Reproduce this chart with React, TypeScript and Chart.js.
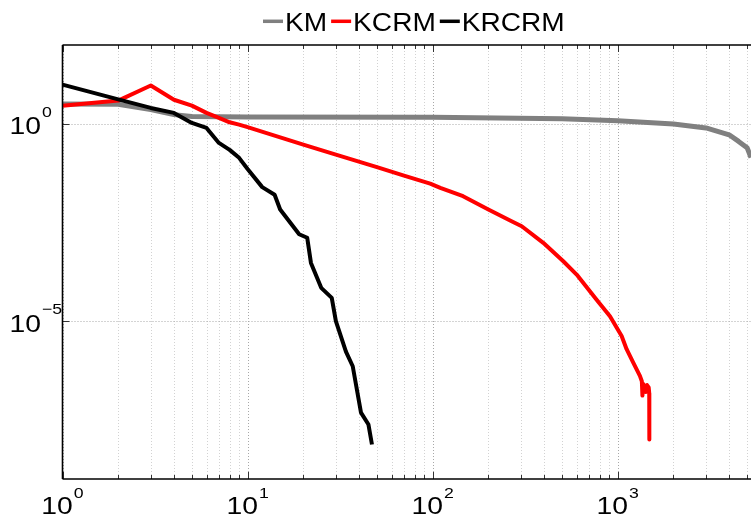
import React, { useEffect, useRef } from "react";
import { Chart, registerables } from "chart.js";

Chart.register(...registerables);

// ---------- data ----------
const seriesNames = ["KM", "KCRM", "KRCRM"];
const seriesColors = ["#808080", "#ff0000", "#000000"];

const kmX = [1, 2, 3, 4, 5, 10, 100, 500, 1000, 2000, 3000, 4000, 4500, 5000, 5250];
const kmY = [3.2, 3.15, 2.3, 1.72, 1.55, 1.5, 1.48, 1.35, 1.2, 1.0, 0.79, 0.53, 0.36, 0.25, 0.14];

const kcrmX = [1, 2, 3, 4, 5, 6, 7, 8, 9, 10, 20, 30, 50, 70, 97, 110, 146, 200, 267, 303, 396, 508, 600, 769, 908, 1050, 1117, 1213, 1318, 1350, 1360, 1370, 1400, 1420, 1440, 1470, 1480, 1482];
const kcrmY = [2.9, 3.9, 9.4, 4.1, 2.9, 1.9, 1.42, 1.1, 0.96, 0.83, 0.3, 0.167, 0.08, 0.049, 0.0307, 0.0239, 0.0147, 0.0068, 0.0034, 0.00255, 0.00097, 0.00033, 1.52e-4, 3.5e-5, 1.34e-5, 4.2e-6, 1.95e-6, 8.9e-7, 4.1e-7, 3.0e-7, 1.3e-7, 2.6e-7, 2.2e-7, 1.6e-7, 2.4e-7, 2.1e-7, 1.5e-7, 1.0e-8];

const krcrmX = [1, 2, 3, 4, 5, 6, 7, 8, 9, 10, 12, 14, 15, 19, 21, 22, 25, 28.5, 30, 34, 37, 41, 45, 47];
const krcrmY = [9.9, 4.2, 2.54, 1.9, 1.06, 0.79, 0.33, 0.22, 0.138, 0.072, 0.025, 0.016, 0.0068, 0.0016, 0.0013, 0.0003, 7e-5, 3.9e-5, 1e-5, 1.7e-6, 7.2e-7, 4.8e-8, 2.4e-8, 7.5e-9];

const xMin = 1;
const xMax = 5250;
const yMin = 1e-9;
const yMax = 100;

const xGridValues = [
  1, 2, 3, 4, 5, 6, 7, 8, 9,
  10, 20, 30, 40, 50, 60, 70, 80, 90,
  100, 200, 300, 400, 500, 600, 700, 800, 900,
  1000, 2000, 3000, 4000, 5000,
];
const xMajorValues = [1, 10, 100, 1000];
const xLabelExponents = ["0", "1", "2", "3"];
const yTickValues = [1, 1e-5];
const yLabelExponents = ["0", "\u22125"];

// ---------- drawing helpers ----------
const FONT = "'Liberation Sans', Arial, sans-serif";

function strokeLine(ctx: CanvasRenderingContext2D, x1: number, y1: number, x2: number, y2: number) {
  ctx.beginPath();
  ctx.moveTo(x1, y1);
  ctx.lineTo(x2, y2);
  ctx.stroke();
}

function drawPowerLabel(
  ctx: CanvasRenderingContext2D,
  exp: string,
  x: number,
  baseY: number,
  supY: number,
  align: "left" | "center"
) {
  const sx = 1.18;
  ctx.font = `24px ${FONT}`;
  const wb = ctx.measureText("10").width * sx;
  ctx.font = `15px ${FONT}`;
  const ws = ctx.measureText(exp).width * sx;
  const total = wb + 1 + ws;
  const x0 = align === "center" ? x - total / 2 : x;
  ctx.save();
  ctx.fillStyle = "#000";
  ctx.textBaseline = "alphabetic";
  ctx.textAlign = "left";
  ctx.translate(x0, baseY);
  ctx.scale(sx, 1);
  ctx.font = `24px ${FONT}`;
  ctx.fillText("10", 0, 0);
  ctx.restore();
  ctx.save();
  ctx.fillStyle = "#000";
  ctx.textBaseline = "alphabetic";
  ctx.textAlign = "left";
  ctx.translate(x0 + wb + 1, supY);
  ctx.scale(sx, 1);
  ctx.font = `15px ${FONT}`;
  ctx.fillText(exp, 0, 0);
  ctx.restore();
}

const decorPlugin = {
  id: "decor",
  beforeDatasetsDraw(chart: any) {
    const { ctx, chartArea: a, scales } = chart;
    const xs = scales.x;
    const ys = scales.y;
    ctx.save();
    ctx.lineWidth = 1;
    ctx.setLineDash([1, 2]);
    for (const v of xGridValues) {
      const px = Math.round(xs.getPixelForValue(v)) + 0.5;
      ctx.strokeStyle = xMajorValues.includes(v) ? "#a8a8a8" : "#d2d2d2";
      strokeLine(ctx, px, a.top, px, a.bottom);
    }
    ctx.strokeStyle = "#a8a8a8";
    for (const v of yTickValues) {
      const py = Math.round(ys.getPixelForValue(v)) + 0.5;
      strokeLine(ctx, a.left, py, a.right, py);
    }
    ctx.restore();
  },
  afterDatasetsDraw(chart: any) {
    const { ctx, chartArea: a, scales } = chart;
    const xs = scales.x;
    const ys = scales.y;
    ctx.save();
    ctx.setLineDash([]);
    // tick marks (inward)
    ctx.strokeStyle = "#333";
    ctx.lineWidth = 1;
    for (const v of xGridValues) {
      const px = Math.round(xs.getPixelForValue(v)) + 0.5;
      const len = xMajorValues.includes(v) ? 7 : 4;
      strokeLine(ctx, px, a.bottom, px, a.bottom - len);
      strokeLine(ctx, px, a.top, px, a.top + len);
    }
    for (const v of yTickValues) {
      const py = Math.round(ys.getPixelForValue(v)) + 0.5;
      strokeLine(ctx, a.left, py, a.left + 7, py);
    }
    // axes box
    ctx.strokeStyle = "#000";
    ctx.lineWidth = 1.6;
    strokeLine(ctx, a.left, a.top, a.right + 2, a.top);
    strokeLine(ctx, a.left, a.top, a.left, a.bottom);
    strokeLine(ctx, a.left, a.bottom, a.right + 2, a.bottom);
    ctx.restore();

    // x tick labels
    xMajorValues.forEach((v, i) => {
      const px = xs.getPixelForValue(v);
      drawPowerLabel(ctx, xLabelExponents[i], px, a.bottom + 35, a.bottom + 19, "center");
    });
    // y tick labels
    yTickValues.forEach((v, i) => {
      const py = ys.getPixelForValue(v);
      drawPowerLabel(ctx, yLabelExponents[i], a.left - 53, py + 10.5, py - 7, "left");
    });

    // legend
    ctx.save();
    const sx = 1.08;
    ctx.font = `26px ${FONT}`;
    ctx.textBaseline = "alphabetic";
    ctx.textAlign = "left";
    let cx = 263;
    const ly = 21.3;
    seriesNames.forEach((name, i) => {
      ctx.strokeStyle = seriesColors[i];
      ctx.lineWidth = 3.5;
      strokeLine(ctx, cx, ly, cx + 20, ly);
      cx += 22;
      ctx.save();
      ctx.fillStyle = "#000";
      ctx.translate(cx, 30.7);
      ctx.scale(sx, 1);
      ctx.fillText(name, 0, 0);
      ctx.restore();
      cx += ctx.measureText(name).width * sx + 4;
    });
    ctx.restore();
  },
};

function toPoints(xs: number[], ys: number[]) {
  return xs.map((x, i) => ({ x, y: ys[i] }));
}

const hiddenAxis = {
  grid: { display: false, drawTicks: false, tickLength: 0 },
  border: { display: false },
  ticks: { display: false, padding: 0 },
  title: { display: false },
};

export default function App() {
  const canvasRef = useRef<HTMLCanvasElement | null>(null);

  useEffect(() => {
    if (!canvasRef.current) return;
    const chart = new Chart(canvasRef.current, {
      type: "line",
      data: {
        datasets: [
          {
            label: seriesNames[0],
            data: toPoints(kmX, kmY),
            borderColor: seriesColors[0],
            backgroundColor: seriesColors[0],
            borderWidth: 5,
            order: 2,
          },
          {
            label: seriesNames[1],
            data: toPoints(kcrmX, kcrmY),
            borderColor: seriesColors[1],
            backgroundColor: seriesColors[1],
            borderWidth: 4,
            order: 1,
          },
          {
            label: seriesNames[2],
            data: toPoints(krcrmX, krcrmY),
            borderColor: seriesColors[2],
            backgroundColor: seriesColors[2],
            borderWidth: 4,
            order: 0,
          },
        ],
      },
      options: {
        animation: false,
        responsive: false,
        devicePixelRatio: 1,
        layout: { padding: { left: 62.5, top: 45, right: 0, bottom: 42 } },
        elements: {
          point: { radius: 0, hoverRadius: 0 },
          line: { tension: 0, borderJoinStyle: "round", borderCapStyle: "butt" },
        },
        plugins: {
          legend: { display: false },
          tooltip: { enabled: false },
          title: { display: false },
        },
        scales: {
          x: { type: "logarithmic", min: xMin, max: xMax, ...hiddenAxis },
          y: { type: "logarithmic", min: yMin, max: yMax, ...hiddenAxis },
        },
      },
      plugins: [decorPlugin],
    });
    return () => chart.destroy();
  }, []);

  return (
    <div style={{ position: "absolute", left: 0, top: 0, width: 751, height: 521, background: "#fff" }}>
      <canvas ref={canvasRef} width={751} height={521} style={{ display: "block" }} />
    </div>
  );
}
